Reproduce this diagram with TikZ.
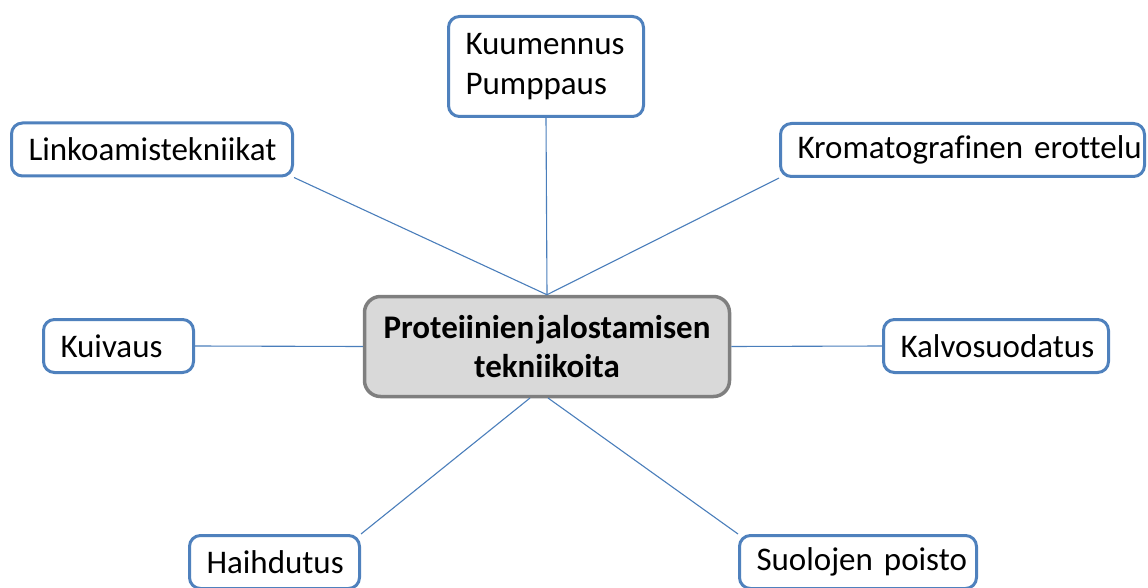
\documentclass[tikz,border=0pt]{standalone}
\usepackage{fontspec}
\setmainfont{Carlito}[Ligatures=NoCommon, WordSpace=0.4]
\definecolor{leafblue}{HTML}{4F81BD}
\definecolor{linkblue}{HTML}{4A7EBB}
\definecolor{hubgray}{HTML}{7F7F7F}
\definecolor{hubfill}{HTML}{D9D9D9}
\begin{document}
\begin{tikzpicture}[x=1pt,y=-1pt,
  leaf/.style={draw=leafblue, line width=3pt, rounded corners=11pt, fill=white,
    inner xsep=17pt, inner ysep=0pt, align=left, minimum height=53pt,
    font=\fontsize{33}{40}\selectfont},
  hub/.style={draw=hubgray, fill=hubfill, line width=3.5pt, rounded corners=16pt,
    inner sep=0pt, minimum width=365pt, minimum height=100pt, align=center,
    font=\bfseries\fontsize{33}{39}\selectfont},
  link/.style={draw=linkblue, line width=1.1pt}]
\useasboundingbox (0,0) rectangle (1148,588);
\clip (0,0) rectangle (1148,588);

% central topic
\node[hub] (hub) at (547,346.5) {Proteiinien jalostamisen\\tekniikoita};
\coordinate (hubsl) at (530,398);
\coordinate (hubsr) at (548,398);

% surrounding methods (labels kept on one line, left aligned in the box)
\node[leaf, text width=161pt, minimum height=100pt] (kuum) at (546,66.5) {Kuumennus\\Pumppaus};
\node[leaf, text width=247pt] (link) at (152,149.5) {\mbox{Linkoamistekniikat}};
\node[leaf, text width=330pt] (krom) at (962.5,150) {\mbox{Kromatografinen erottelu}};
\node[leaf, text width=116pt] (kuiv) at (118.5,346) {\mbox{Kuivaus}};
\node[leaf, text width=191pt] (kalv) at (996,346) {\mbox{Kalvosuodatus}};
\node[leaf, text width=136pt] (haih) at (274.5,562) {\mbox{Haihdutus}};
\node[leaf, text width=203pt] (suol) at (858,562) {\mbox{Suolojen poisto}};

% connectors
\draw[link] (kuum.south) -- (hub.north);
\draw[link] (link.south east) -- (hub.north);
\draw[link] (krom.south west) -- (hub.north);
\draw[link] (kuiv.east) -- (hub.west);
\draw[link] (kalv.west) -- (hub.east);
\draw[link] (haih.north east) -- (hubsl);
\draw[link] (suol.north west) -- (hubsr);
\end{tikzpicture}
\end{document}
